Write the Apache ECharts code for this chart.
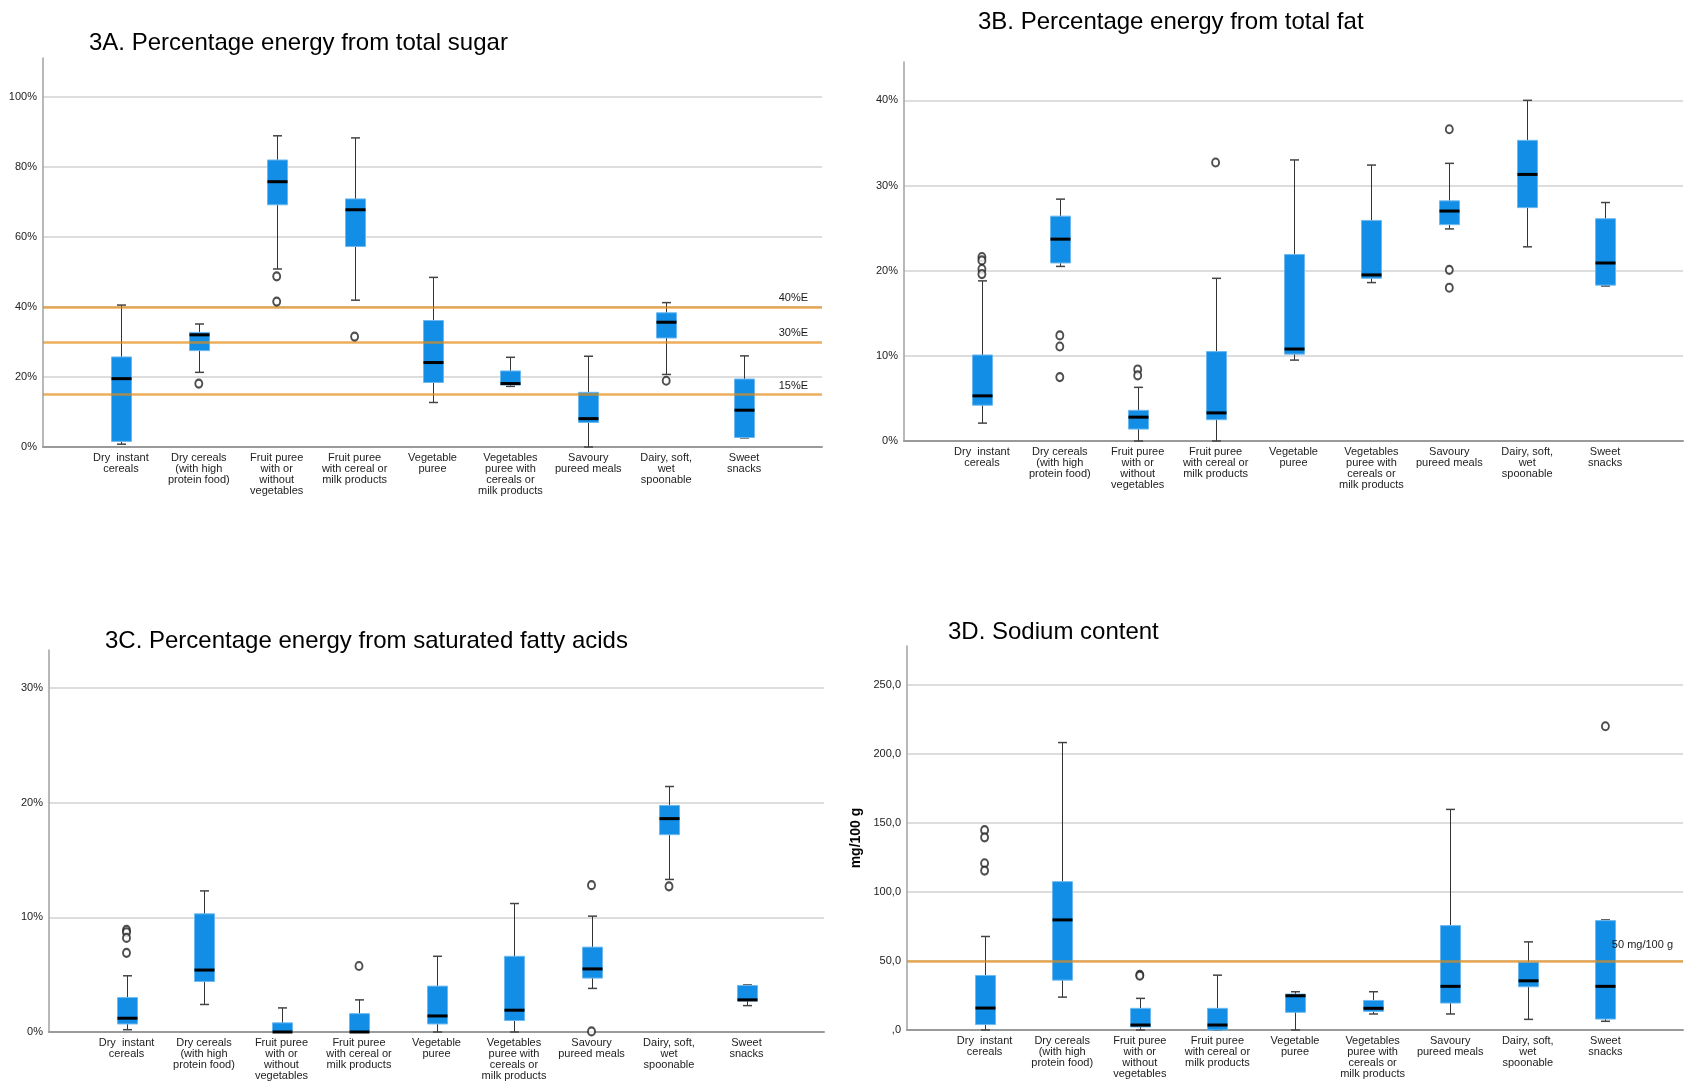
<!DOCTYPE html>
<html>
<head>
<meta charset="utf-8">
<script src="https://cdn.jsdelivr.net/npm/echarts@6/dist/echarts.min.js"></script>
<style>html,body{margin:0;padding:0;background:#fff}#c{width:1686px;height:1088px}</style>
</head>
<body>
<div id="c"></div>
<script>
// ---------- DATA ----------
const categories = [
  'Dry  instant\ncereals',
  'Dry cereals\n(with high\nprotein food)',
  'Fruit puree\nwith or\nwithout\nvegetables',
  'Fruit puree\nwith cereal or\nmilk products',
  'Vegetable\npuree',
  'Vegetables\npuree with\ncereals or\nmilk products',
  'Savoury\npureed meals',
  'Dairy, soft,\nwet\nspoonable',
  'Sweet\nsnacks'
];

// box stats per category: [min whisker, Q1, median, Q3, max whisker]
const sugarBoxes = [
  [0.8, 1.6, 19.5, 25.7, 40.5],
  [21.3, 27.5, 32.0, 32.7, 35.1],
  [50.8, 69.1, 75.7, 81.9, 88.8],
  [41.9, 57.2, 67.7, 70.8, 88.2],
  [12.7, 18.4, 24.1, 36.1, 48.4],
  [17.3, 17.7, 18.1, 21.7, 25.6],
  [0, 7.0, 8.1, 15.6, 25.9],
  [20.7, 31.1, 35.6, 38.3, 41.2],
  [2.6, 2.7, 10.5, 19.4, 26.0]
];
// outliers: [category index, value]
const sugarOutliers = [[1, 18.1], [2, 48.7], [2, 41.5], [3, 31.5], [7, 18.9]];
const sugarRefLines = [40, 30, 15];
const sugarTicks = [0, 20, 40, 60, 80, 100];

const fatBoxes = [
  [2.1, 4.2, 5.3, 10.1, 18.8],
  [20.5, 20.9, 23.7, 26.4, 28.4],
  [0, 1.4, 2.8, 3.6, 6.3],
  [0, 2.5, 3.3, 10.5, 19.1],
  [9.5, 10.2, 10.8, 21.9, 33.0],
  [18.6, 19.1, 19.5, 25.9, 32.4],
  [24.9, 25.4, 27.0, 28.2, 32.6],
  [22.8, 27.4, 31.3, 35.3, 40.0],
  [18.2, 18.3, 20.9, 26.1, 28.0]
];
const fatOutliers = [[0, 21.6], [0, 21.2], [0, 20.2], [0, 19.6], [1, 12.4], [1, 11.1], [1, 7.5],
  [2, 8.4], [2, 7.7], [3, 32.7], [6, 36.6], [6, 20.1], [6, 18.0]];
const fatTicks = [0, 10, 20, 30, 40];

const satBoxes = [
  [0.2, 0.7, 1.2, 3.0, 4.9],
  [2.4, 4.4, 5.4, 10.3, 12.3],
  [0, 0, 0, 0.8, 2.1],
  [0, 0, 0, 1.6, 2.8],
  [0, 0.7, 1.4, 4.0, 6.6],
  [0, 1.0, 1.9, 6.6, 11.2],
  [3.8, 4.7, 5.5, 7.4, 10.1],
  [13.3, 17.2, 18.6, 19.75, 21.4],
  [2.3, 2.7, 2.8, 4.05, 4.1]
];
const satOutliers = [[0, 8.9], [0, 8.7], [0, 8.2], [0, 6.9], [3, 5.75], [6, 12.8], [6, 0.05], [7, 12.7]];
const satTicks = [0, 10, 20, 30];

const sodiumBoxes = [
  [0, 3.9, 15.9, 39.5, 67.7],
  [23.8, 36.1, 79.7, 107.4, 208.1],
  [0, 2.2, 3.6, 15.7, 22.9],
  [0, 0, 3.6, 15.7, 39.7],
  [0, 12.8, 24.8, 26.0, 27.7],
  [11.6, 13.5, 15.7, 21.4, 27.7],
  [11.6, 19.5, 31.6, 75.6, 159.7],
  [7.7, 31.3, 35.6, 49.1, 63.8],
  [6.3, 7.9, 31.6, 79.2, 79.7]
];
const sodiumOutliers = [[0, 144.7], [0, 139.5], [0, 120.7], [0, 115.4], [2, 40.0], [2, 39.3], [8, 219.9]];
const sodiumRefLines = [50];
const sodiumTicks = [0, 50, 100, 150, 200, 250];

// ---------- CHART ----------
const FONT = '"Liberation Sans", Arial, sans-serif';
const axisCats = [''].concat(categories, ['']);

const panels = [
  { title: '3A. Percentage energy from total sugar', boxes: sugarBoxes, outliers: sugarOutliers, ticks: sugarTicks,
    refs: sugarRefLines, refLabel: v => v + '%E', refDist: [14, 3], fmt: v => v + '%', max: 111,
    grid: { left: 43, top: 58, width: 779, height: 389 }, tpos: { left: 89, top: 31 } },
  { title: '3B. Percentage energy from total fat', boxes: fatBoxes, outliers: fatOutliers, ticks: fatTicks,
    refs: [], fmt: v => v + '%', max: 44.5,
    grid: { left: 904, top: 62, width: 780, height: 379 }, tpos: { left: 978, top: 10 } },
  { title: '3C. Percentage energy from saturated fatty acids', boxes: satBoxes, outliers: satOutliers, ticks: satTicks,
    refs: [], fmt: v => v + '%', max: 33.3,
    grid: { left: 49, top: 650, width: 775, height: 382 }, tpos: { left: 105, top: 629 } },
  { title: '3D. Sodium content', boxes: sodiumBoxes, outliers: sodiumOutliers, ticks: sodiumTicks,
    refs: sodiumRefLines, refLabel: v => v + ' mg/100 g', refDist: [10, 10],
    fmt: v => v === 0 ? ',0' : v.toFixed(1).replace('.', ','), max: 278, name: 'mg/100 g',
    grid: { left: 907, top: 646, width: 777, height: 384 }, tpos: { left: 948, top: 620 } }
];

function renderBox(params, api) {
  const x = api.value(0);
  const lo = api.coord([x, api.value(1)]);
  const q1 = api.coord([x, api.value(2)]);
  const md = api.coord([x, api.value(3)]);
  const q3 = api.coord([x, api.value(4)]);
  const hi = api.coord([x, api.value(5)]);
  const cx = Math.round(lo[0]) + 0.5;
  const bw = 20, cw = 9;
  return {
    type: 'group',
    children: [
      { type: 'line', shape: { x1: cx, y1: hi[1], x2: cx, y2: lo[1] }, style: { stroke: '#333', lineWidth: 1 } },
      { type: 'line', shape: { x1: cx - cw / 2, y1: hi[1], x2: cx + cw / 2, y2: hi[1] }, style: { stroke: '#444', lineWidth: 1.5 } },
      { type: 'line', shape: { x1: cx - cw / 2, y1: lo[1], x2: cx + cw / 2, y2: lo[1] }, style: { stroke: '#444', lineWidth: 1.5 } },
      { type: 'rect', shape: { x: cx - bw / 2, y: q3[1], width: bw, height: Math.max(q1[1] - q3[1], 1) },
        style: { fill: '#138EE6', stroke: '#6DB9EF', lineWidth: 1 } },
      { type: 'line', shape: { x1: cx - bw / 2, y1: md[1], x2: cx + bw / 2, y2: md[1] }, style: { stroke: '#000', lineWidth: 3 } }
    ]
  };
}

const option = { animation: false, backgroundColor: '#fff', title: [], grid: [], xAxis: [], yAxis: [], series: [] };

panels.forEach((p, i) => {
  option.title.push({ text: p.title, left: p.tpos.left, top: p.tpos.top, padding: 0,
    textStyle: { fontFamily: FONT, fontSize: 24, fontWeight: 'normal', color: '#000' } });
  option.grid.push(Object.assign({ containLabel: false }, p.grid));
  option.xAxis.push({
    type: 'category', gridIndex: i, data: axisCats, boundaryGap: false,
    axisTick: { show: false },
    axisLine: { lineStyle: { color: '#9a9a9a', width: 2 } },
    axisLabel: { interval: 0, fontFamily: FONT, fontSize: 11, lineHeight: 11, color: '#222', margin: 5 },
    splitLine: { show: false }
  });
  const step = p.ticks[1] - p.ticks[0];
  option.yAxis.push({
    type: 'value', gridIndex: i, min: 0, max: p.max, interval: step,
    name: p.name || '', nameLocation: 'middle', nameGap: 44, nameRotate: 90,
    nameTextStyle: { fontFamily: FONT, fontSize: 14, fontWeight: 'bold', color: '#000' },
    axisLine: { show: true, lineStyle: { color: '#a0a0a0', width: 1.5 } },
    axisTick: { show: false },
    axisLabel: { fontFamily: FONT, fontSize: 11, color: '#222', margin: 6, showMaxLabel: false,
      formatter: v => (p.ticks.indexOf(v) >= 0 ? p.fmt(v) : '') },
    splitLine: { show: true, showMinLine: false, showMaxLine: false, lineStyle: { color: '#d2d2d2', width: 1.5 } }
  });
  option.series.push({
    type: 'custom', xAxisIndex: i, yAxisIndex: i, z: 2,
    renderItem: renderBox,
    encode: { x: 0, y: [1, 2, 3, 4, 5] },
    data: p.boxes.map((b, k) => [k + 1].concat(b))
  });
  const sc = {
    type: 'scatter', xAxisIndex: i, yAxisIndex: i, z: 5,
    symbol: 'emptyCircle', symbolSize: [7, 8],
    itemStyle: { color: '#222', borderWidth: 1.1 },
    data: p.outliers.map(o => [o[0] + 1, o[1]])
  };
  if (p.refs.length) {
    sc.markLine = {
      silent: true, symbol: 'none', animation: false,
      lineStyle: { color: 'rgba(228,140,20,0.7)', width: 2.5, type: 'solid' },
      label: { position: 'insideEndTop', distance: p.refDist, fontFamily: FONT, fontSize: 11, color: '#1a1a1a' },
      data: p.refs.map(v => ({ yAxis: v, label: { formatter: p.refLabel(v) } }))
    };
  }
  option.series.push(sc);
});

const chart = echarts.init(document.getElementById('c'), null, { renderer: 'canvas' });
chart.setOption(option);
</script>
</body>
</html>
